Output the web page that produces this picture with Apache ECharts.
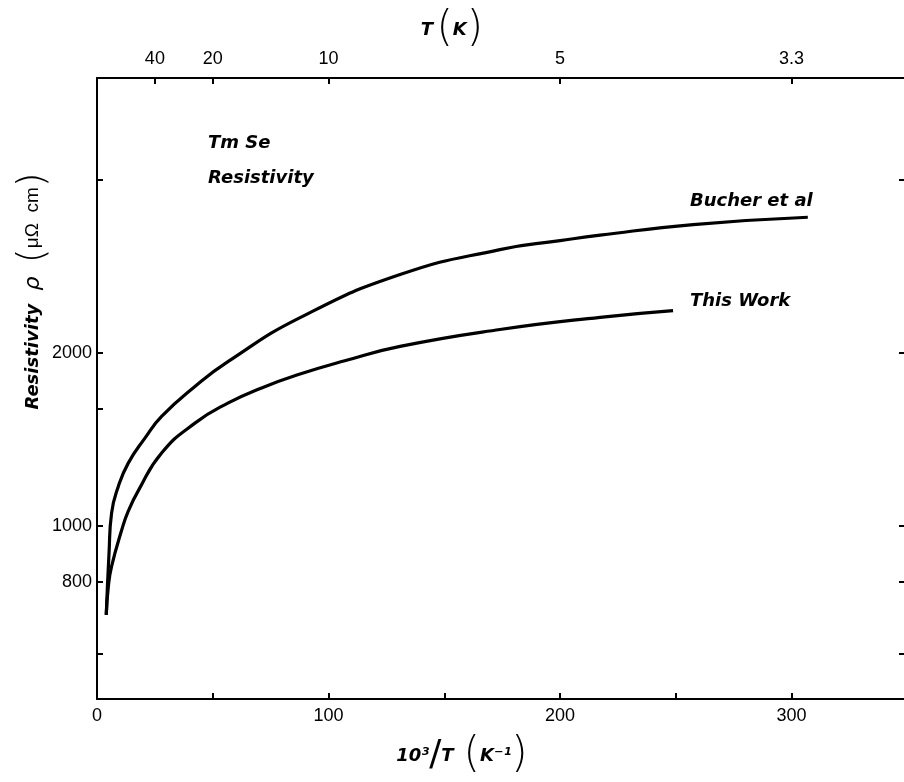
<!DOCTYPE html>
<html>
<head>
<meta charset="utf-8">
<title>TmSe resistivity</title>
<script src="https://cdn.jsdelivr.net/npm/echarts@6/dist/echarts.min.js"></script>
<style>
  html, body { margin: 0; padding: 0; background: #fff; }
  #chart { width: 904px; height: 782px; }
</style>
</head>
<body>
<div id="chart"></div>
<script>
// values: x = 10^3/T (K^-1), y = resistivity (μΩ cm)
const bucherX = [4, 5.2, 6.3, 9.2, 13.5, 20.7, 27.9, 42.3, 56.7, 87.7, 130.9, 174, 200, 217.3, 257.5, 307]
const bucherY = [700, 897, 1052, 1170, 1285, 1420, 1549, 1746, 1930, 2300, 2732, 3020, 3130, 3200, 3338, 3437]

const thisWorkX = [4, 4.9, 6.3, 10.7, 13.5, 17.8, 27.9, 42.3, 56.7, 71.1, 87.7, 107, 130.9, 174, 217.3, 248.8]
const thisWorkY = [700, 784, 850, 984, 1060, 1150, 1338, 1508, 1635, 1736, 1835, 1935, 2050, 2193, 2303, 2366]

// axis ticks
const bottomTicks = [0, 50, 100, 150, 200, 250, 300]
const bottomLabels = [0, 100, 200, 300]
const topTicks = [25, 50, 100, 200, 300]          // where T = 40, 20, 10, 5, 3.3 K
const topTickNames = ['40', '20', '10', '5', '3.3']
const leftTicks = [600, 800, 1000, 1600, 2000, 4000]
const leftLabels = [800, 1000, 2000]
const rightTicks = [600, 800, 1000, 2000, 4000]

const zip = (xs, ys) => xs.map((x, i) => [x, ys[i]])

const numFont = { color: '#000', fontFamily: 'Liberation Sans', fontSize: 18 }
const ink = { color: '#000', width: 2 }
const italicBold = { fontFamily: 'DejaVu Sans', fontStyle: 'italic', fontWeight: 'bold', fontSize: 18, fill: '#000' }

var myChart = echarts.init(document.getElementById('chart'))

var option = {
  animation: false,
  backgroundColor: '#fff',
  // right edge sits just past the canvas, as in the original scan
  grid: { left: 97, top: 78, width: 815, height: 621, outerBoundsMode: 'none', containLabel: false },
  xAxis: [
    {
      type: 'value', position: 'bottom', min: 0, max: 352,
      axisLine: { onZero: false, lineStyle: ink },
      axisTick: { inside: true, length: 6, lineStyle: ink, customValues: bottomTicks },
      axisLabel: Object.assign({ margin: 8, customValues: bottomLabels, formatter: v => String(v) }, numFont),
      splitLine: { show: false }
    },
    {
      type: 'value', position: 'top', min: 0, max: 352,
      axisLine: { onZero: false, lineStyle: ink },
      axisTick: { inside: true, length: 6, lineStyle: ink, customValues: topTicks },
      axisLabel: Object.assign({
        margin: 10, customValues: topTicks,
        formatter: v => topTickNames[topTicks.indexOf(v)]
      }, numFont),
      splitLine: { show: false }
    }
  ],
  yAxis: [
    {
      type: 'log', logBase: 10, position: 'left', min: 500, max: 6000,
      axisLine: { onZero: false, lineStyle: ink },
      axisTick: { inside: true, length: 6, lineStyle: ink, customValues: leftTicks },
      axisLabel: Object.assign({ margin: 5, customValues: leftLabels, formatter: v => String(v) }, numFont),
      minorTick: { show: false },
      splitLine: { show: false }
    },
    {
      type: 'log', logBase: 10, position: 'right', min: 500, max: 6000,
      axisLine: { onZero: false, lineStyle: ink },
      axisTick: { inside: true, length: 13, lineStyle: ink, customValues: rightTicks },
      axisLabel: { show: false },
      minorTick: { show: false },
      splitLine: { show: false }
    }
  ],
  series: [
    {
      name: 'Bucher et al', type: 'line', xAxisIndex: 0, yAxisIndex: 0,
      data: zip(bucherX, bucherY),
      smooth: 0.5, showSymbol: false,
      lineStyle: { color: '#000', width: 3.2 }
    },
    {
      name: 'This Work', type: 'line', xAxisIndex: 0, yAxisIndex: 0,
      data: zip(thisWorkX, thisWorkY),
      smooth: 0.5, showSymbol: false,
      lineStyle: { color: '#000', width: 3.2 }
    }
  ],
  graphic: [
    // axis titles
    {
      type: 'text', x: 452, y: 30,
      style: {
        text: '{b|T} {p|(}{b|K}{p|)}',
        textAlign: 'center', textVerticalAlign: 'middle',
        rich: {
          b: italicBold,
          p: { fontFamily: 'DejaVu Sans', fontWeight: 200, fontSize: 42, fill: '#000' }
        }
      }
    },
    {
      type: 'text', x: 462, y: 756,
      style: {
        text: '{b|10³}{s|/}{b|T}   {p|(}{b|K⁻¹}{p|)}',
        textAlign: 'center', textVerticalAlign: 'middle',
        rich: {
          b: italicBold,
          s: { fontFamily: 'DejaVu Sans', fontSize: 36, fill: '#000' },
          p: { fontFamily: 'DejaVu Sans', fontWeight: 200, fontSize: 42, fill: '#000' }
        }
      }
    },
    {
      type: 'text', x: 33, y: 291, rotation: Math.PI / 2,
      style: {
        text: '{b|Resistivity}    {r|ρ}    {p|(}{n|μΩ  cm}{p|)}',
        textAlign: 'center', textVerticalAlign: 'middle',
        rich: {
          b: italicBold,
          r: { fontFamily: 'DejaVu Sans', fontStyle: 'italic', fontSize: 22, fill: '#000' },
          n: { fontFamily: 'Liberation Sans', fontSize: 19, fill: '#000' },
          p: { fontFamily: 'DejaVu Sans', fontWeight: 200, fontSize: 38, fill: '#000' }
        }
      }
    },
    // annotations
    {
      type: 'text', x: 208, y: 143,
      style: Object.assign({ text: 'Tm Se', textVerticalAlign: 'middle' }, italicBold)
    },
    {
      type: 'text', x: 208, y: 178,
      style: Object.assign({ text: 'Resistivity', textVerticalAlign: 'middle' }, italicBold)
    },
    {
      type: 'text', x: 690, y: 201,
      style: Object.assign({ text: 'Bucher et al', textVerticalAlign: 'middle' }, italicBold)
    },
    {
      type: 'text', x: 690, y: 301,
      style: Object.assign({ text: 'This Work', textVerticalAlign: 'middle' }, italicBold)
    }
  ]
}

myChart.setOption(option)
</script>
</body>
</html>
